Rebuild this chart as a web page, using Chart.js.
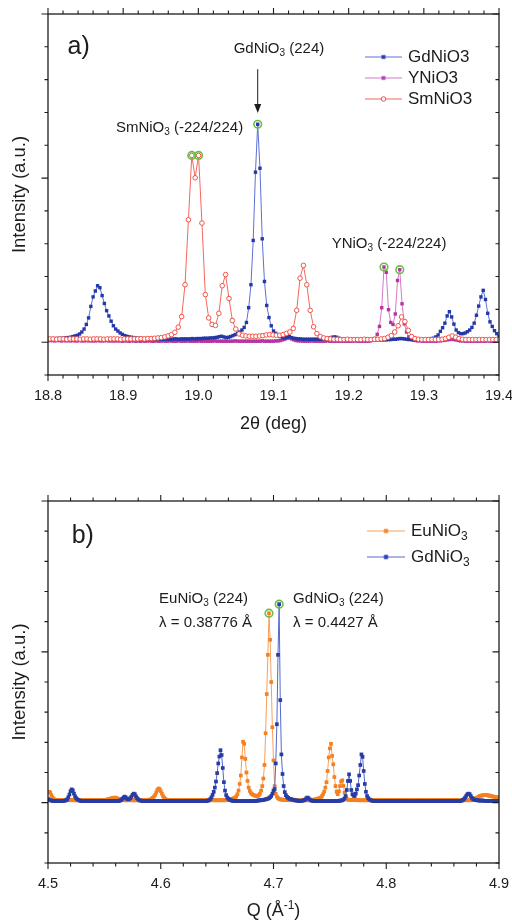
<!DOCTYPE html>
<html>
<head>
<meta charset="utf-8">
<title>Nickelate diffraction peaks</title>
<script src="https://cdn.jsdelivr.net/npm/chart.js@4.4.1/dist/chart.umd.min.js"></script>
<style>
  html, body { margin: 0; padding: 0; background: #fff; }
  #panelA { position: absolute; left: 0; top: 0; }
  #panelB { position: absolute; left: 0; top: 460px; }
</style>
</head>
<body>
<canvas id="panelA" width="512" height="460"></canvas>
<canvas id="panelB" width="512" height="462"></canvas>
<script>
// ---- panel a: intensity vs 2theta (deg), one row = 10 steps ----
const gdStartA = 18.8, gdStepA = 0.003;
const gdNiO3A = [
  0.10,0.10,0.11,0.11,0.11,0.12,0.12,0.13,0.13,0.14, // 18.800
  0.15,0.17,0.19,0.21,0.25,0.31,0.40,0.54,0.74,1.09, // 18.830
  1.38,1.56,1.72,1.66,1.42,1.18,0.96,0.80,0.64,0.50, // 18.860
  0.40,0.34,0.28,0.24,0.20,0.18,0.16,0.15,0.14,0.13, // 18.890
  0.12,0.12,0.11,0.11,0.10,0.10,0.10,0.09,0.09,0.09, // 18.920
  0.09,0.09,0.09,0.10,0.09,0.09,0.10,0.10,0.09,0.10, // 18.950
  0.10,0.10,0.10,0.10,0.11,0.10,0.11,0.11,0.11,0.12, // 18.980
  0.12,0.12,0.13,0.13,0.14,0.15,0.17,0.18,0.16,0.14, // 19.010
  0.15,0.17,0.20,0.23,0.27,0.31,0.37,0.45,0.60,1.05, // 19.040
  1.75,3.10,5.18,6.64,5.30,3.15,1.85,1.12,0.75,0.50, // 19.070
  0.34,0.27,0.21,0.17,0.14,0.13,0.15,0.17,0.14,0.12, // 19.100
  0.11,0.10,0.10,0.09,0.09,0.09,0.09,0.09,0.09,0.09, // 19.130
  0.09,0.09,0.09,0.10,0.11,0.13,0.15,0.16,0.15,0.12, // 19.160
  0.10,0.09,0.08,0.08,0.08,0.08,0.08,0.08,0.08,0.08, // 19.190
  0.08,0.08,0.08,0.07,0.07,0.07,0.07,0.07,0.07,0.07, // 19.220
  0.07,0.08,0.08,0.09,0.09,0.10,0.11,0.11,0.10,0.09, // 19.250
  0.08,0.08,0.08,0.08,0.08,0.08,0.08,0.08,0.09,0.10, // 19.280
  0.11,0.12,0.16,0.22,0.33,0.44,0.58,0.80,0.93,0.77, // 19.310
  0.55,0.37,0.29,0.26,0.26,0.28,0.32,0.37,0.45,0.58, // 19.340
  0.82,1.10,1.38,1.58,1.30,0.88,0.62,0.48,0.35,0.26, // 19.370
  0.17
];

const yStartA = 18.8, yStepA = 0.003;
const yNiO3A = [
  0.05,0.05,0.05,0.04,0.05,0.05,0.04,0.05,0.04,0.05,
  0.04,0.05,0.04,0.04,0.05,0.04,0.04,0.05,0.04,0.04,
  0.04,0.04,0.05,0.04,0.04,0.04,0.05,0.04,0.04,0.04,
  0.04,0.04,0.04,0.03,0.04,0.04,0.03,0.04,0.04,0.03,
  0.04,0.03,0.04,0.03,0.04,0.04,0.03,0.03,0.04,0.03,
  0.03,0.04,0.03,0.03,0.04,0.03,0.03,0.03,0.04,0.03,
  0.03,0.03,0.04,0.03,0.03,0.03,0.03,0.04,0.03,0.03,
  0.03,0.03,0.03,0.03,0.04,0.03,0.03,0.03,0.03,0.03,
  0.03,0.03,0.03,0.04,0.03,0.03,0.03,0.03,0.03,0.03,
  0.03,0.03,0.03,0.03,0.03,0.04,0.03,0.03,0.03,0.03,
  0.03,0.04,0.04,0.05,0.07,0.09,0.12,0.13,0.10,0.07, // 19.100
  0.05,0.04,0.04,0.03,0.03,0.03,0.03,0.04,0.03,0.03,
  0.03,0.03,0.03,0.03,0.04,0.03,0.03,0.03,0.03,0.03,
  0.03,0.03,0.03,0.03,0.03,0.03,0.04,0.03,0.03,0.03,
  0.03,0.03,0.03,0.04,0.06,0.11,0.24,0.48,1.05,2.29, // 19.220
  2.13,0.99,0.60,0.54,0.86,1.88,2.21,1.17,0.56,0.31, // 19.250
  0.16,0.09,0.06,0.05,0.04,0.04,0.03,0.03,0.03,0.03,
  0.03,0.03,0.03,0.04,0.04,0.05,0.06,0.07,0.08,0.09,
  0.08,0.07,0.05,0.04,0.04,0.03,0.03,0.03,0.03,0.03,
  0.03,0.03,0.03,0.03,0.03,0.04,0.03,0.03,0.03,0.03,
  0.03
];

const smStartA = 18.8023, smStepA = 0.0045;
const smNiO3A = [
  0.10,0.10,0.09,0.10,0.10,0.09,0.10,0.10,0.10,0.09,
  0.10,0.10,0.09,0.10,0.10,0.10,0.09,0.10,0.10,0.10,
  0.10,0.09,0.10,0.10,0.10,0.10,0.10,0.11,0.10,0.11,
  0.11,0.12,0.13,0.14,0.16,0.19,0.23,0.30,0.46,0.78, // 18.937
  1.75,3.73,5.69,5.01,5.69,3.63,1.45,0.74,0.54,0.51, // 18.982
  0.88,1.72,2.06,1.33,0.66,0.40,0.25,0.21,0.19,0.18, // 19.027
  0.18,0.18,0.19,0.20,0.22,0.23,0.22,0.21,0.21,0.23, // 19.072
  0.27,0.31,0.42,0.97,1.95,2.34,1.75,0.97,0.47,0.26, // 19.117
  0.17,0.13,0.11,0.10,0.09,0.09,0.08,0.08,0.09,0.08,
  0.08,0.08,0.08,0.09,0.08,0.08,0.09,0.09,0.10,0.11,
  0.15,0.20,0.31,0.50,0.77,0.63,0.36,0.17,0.11,0.09, // 19.252
  0.08,0.08,0.08,0.08,0.08,0.08,0.09,0.11,0.15,0.19,
  0.15,0.11,0.09,0.08,0.08,0.08,0.08,0.08,0.08,0.08,
  0.08,0.08,0.08,0.08
];

// ---- panel b: intensity vs Q (1/Angstrom), one row = 20 steps ----
const qStartB = 4.5, qStepB = 0.001;
const euNiO3B = [
  0.35,0.36,0.33,0.25,0.18,0.13,0.10,0.09,0.09,0.08, 0.08,0.09,0.08,0.08,0.08,0.09,0.08,0.08,0.08,0.08, // 4.50
  0.08,0.08,0.09,0.08,0.08,0.08,0.08,0.08,0.09,0.08, 0.08,0.08,0.08,0.08,0.09,0.08,0.08,0.08,0.08,0.09, // 4.52
  0.08,0.08,0.08,0.08,0.08,0.08,0.08,0.08,0.09,0.08, 0.09,0.09,0.10,0.11,0.12,0.13,0.14,0.15,0.16,0.17, // 4.54
  0.16,0.15,0.13,0.12,0.10,0.09,0.09,0.08,0.08,0.08, 0.08,0.08,0.08,0.08,0.08,0.08,0.08,0.08,0.08,0.08, // 4.56
  0.08,0.08,0.08,0.08,0.08,0.08,0.08,0.08,0.09,0.09, 0.10,0.11,0.13,0.16,0.20,0.26,0.34,0.42,0.47,0.45, // 4.58
  0.38,0.30,0.22,0.16,0.12,0.10,0.09,0.09,0.08,0.08, 0.08,0.08,0.08,0.08,0.08,0.08,0.08,0.08,0.08,0.08, // 4.60
  0.08,0.08,0.08,0.09,0.08,0.08,0.08,0.08,0.08,0.08, 0.09,0.08,0.08,0.08,0.08,0.08,0.08,0.09,0.08,0.08, // 4.62
  0.08,0.08,0.08,0.08,0.08,0.08,0.08,0.08,0.08,0.08, 0.08,0.08,0.08,0.08,0.08,0.08,0.08,0.08,0.09,0.09, // 4.64
  0.09,0.09,0.10,0.12,0.13,0.15,0.17,0.21,0.28,0.40, 0.62,0.90,1.50,2.02,1.95,1.45,1.00,0.72,0.50,0.39, // 4.66
  0.32,0.28,0.26,0.24,0.23,0.22,0.22,0.25,0.30,0.40, 0.55,0.80,1.25,2.30,3.60,4.90,6.28,5.40,4.00,2.50, // 4.68
  1.40,0.55,0.30,0.20,0.15,0.12,0.11,0.10,0.10,0.09, 0.09,0.09,0.09,0.09,0.08,0.08,0.08,0.08,0.08,0.08, // 4.70
  0.08,0.08,0.08,0.08,0.08,0.08,0.08,0.08,0.08,0.08, 0.08,0.08,0.08,0.08,0.08,0.09,0.10,0.11,0.12,0.13, // 4.72
  0.14,0.15,0.17,0.22,0.28,0.37,0.50,0.68,1.05,1.50, 1.80,1.95,1.55,1.27,0.85,0.55,0.36,0.28,0.38,0.55, // 4.74
  0.70,0.74,0.56,0.33,0.18,0.12,0.10,0.09,0.09,0.09, 0.09,0.09,0.09,0.09,0.09,0.08,0.08,0.08,0.08,0.08, // 4.76
  0.08,0.08,0.08,0.08,0.08,0.08,0.08,0.08,0.08,0.08, 0.08,0.08,0.08,0.08,0.08,0.08,0.08,0.08,0.08,0.08, // 4.78
  0.08,0.08,0.08,0.08,0.09,0.08,0.08,0.08,0.08,0.08, 0.08,0.08,0.08,0.08,0.08,0.08,0.09,0.08,0.08,0.08, // 4.80
  0.08,0.08,0.08,0.08,0.08,0.08,0.08,0.08,0.08,0.08, 0.09,0.08,0.08,0.08,0.08,0.08,0.08,0.08,0.08,0.08, // 4.82
  0.08,0.08,0.08,0.08,0.08,0.08,0.08,0.09,0.08,0.08, 0.08,0.08,0.08,0.08,0.08,0.08,0.08,0.08,0.08,0.08, // 4.84
  0.08,0.08,0.08,0.08,0.08,0.08,0.08,0.08,0.08,0.08, 0.08,0.08,0.08,0.08,0.08,0.08,0.09,0.10,0.12,0.14, // 4.86
  0.16,0.18,0.20,0.22,0.23,0.24,0.25,0.25,0.25,0.25, 0.24,0.24,0.23,0.22,0.21,0.20,0.19,0.18,0.18,0.17, // 4.88
  0.17
];

const gdNiO3B = [
  0.12,0.10,0.08,0.07,0.06,0.06,0.05,0.05,0.05,0.05, 0.05,0.05,0.05,0.06,0.06,0.07,0.08,0.11,0.18,0.27, // 4.50
  0.38,0.44,0.41,0.30,0.21,0.15,0.11,0.09,0.07,0.06, 0.06,0.05,0.05,0.05,0.05,0.05,0.05,0.05,0.05,0.05, // 4.52
  0.05,0.05,0.05,0.05,0.05,0.05,0.05,0.05,0.05,0.05, 0.05,0.05,0.05,0.05,0.05,0.05,0.05,0.05,0.05,0.05, // 4.54
  0.05,0.05,0.05,0.06,0.07,0.09,0.13,0.17,0.20,0.17, 0.13,0.11,0.12,0.15,0.20,0.26,0.30,0.28,0.21,0.15, // 4.56
  0.11,0.08,0.07,0.06,0.05,0.05,0.05,0.05,0.05,0.05, 0.05,0.05,0.05,0.05,0.05,0.05,0.05,0.05,0.05,0.05, // 4.58
  0.05,0.05,0.05,0.05,0.05,0.05,0.05,0.05,0.05,0.05, 0.05,0.05,0.05,0.05,0.05,0.05,0.05,0.05,0.05,0.05, // 4.60
  0.05,0.05,0.05,0.05,0.05,0.05,0.05,0.05,0.05,0.05, 0.05,0.05,0.05,0.05,0.05,0.05,0.05,0.05,0.05,0.05, // 4.62
  0.05,0.06,0.07,0.09,0.12,0.18,0.26,0.36,0.50,0.70, 0.98,1.30,1.53,1.74,1.58,1.15,0.68,0.40,0.25,0.17, // 4.64
  0.13,0.10,0.08,0.07,0.06,0.06,0.05,0.05,0.05,0.05, 0.05,0.05,0.05,0.05,0.05,0.05,0.05,0.05,0.05,0.05, // 4.66
  0.05,0.05,0.05,0.06,0.06,0.06,0.07,0.07,0.08,0.08, 0.09,0.09,0.10,0.11,0.12,0.13,0.15,0.18,0.22,0.30, // 4.68
  0.40,0.45,1.30,2.60,4.90,6.58,3.40,1.60,0.95,0.55, 0.35,0.25,0.19,0.16,0.13,0.12,0.11,0.10,0.09,0.08, // 4.70
  0.07,0.07,0.06,0.06,0.06,0.06,0.07,0.08,0.10,0.14, 0.17,0.15,0.11,0.08,0.07,0.06,0.06,0.05,0.05,0.05, // 4.72
  0.05,0.05,0.05,0.05,0.05,0.05,0.05,0.05,0.05,0.05, 0.05,0.05,0.05,0.05,0.05,0.05,0.05,0.06,0.06,0.07, // 4.74
  0.07,0.08,0.10,0.14,0.22,0.42,0.72,0.94,0.72,0.42, 0.28,0.23,0.22,0.30,0.44,0.58,0.90,1.25,1.60,1.52, // 4.76
  1.05,0.62,0.36,0.22,0.15,0.11,0.09,0.07,0.06,0.06, 0.05,0.05,0.05,0.05,0.05,0.05,0.05,0.05,0.05,0.05, // 4.78
  0.05,0.05,0.05,0.05,0.05,0.05,0.05,0.05,0.05,0.05, 0.05,0.05,0.05,0.05,0.05,0.05,0.05,0.05,0.05,0.05, // 4.80
  0.05,0.05,0.05,0.05,0.05,0.05,0.05,0.05,0.05,0.05, 0.05,0.05,0.05,0.05,0.05,0.05,0.05,0.05,0.05,0.05, // 4.82
  0.05,0.05,0.05,0.05,0.05,0.05,0.05,0.05,0.05,0.05, 0.05,0.05,0.05,0.05,0.05,0.05,0.05,0.05,0.05,0.05, // 4.84
  0.05,0.05,0.05,0.05,0.05,0.05,0.06,0.07,0.09,0.12, 0.17,0.23,0.28,0.30,0.28,0.22,0.16,0.12,0.10,0.09, // 4.86
  0.08,0.08,0.07,0.07,0.07,0.07,0.07,0.06,0.06,0.06, 0.06,0.06,0.06,0.06,0.06,0.06,0.06,0.06,0.06,0.06, // 4.88
  0.06
];

const FONT = '"Liberation Sans", Arial, Helvetica, sans-serif';
const INK = '#1c1c1c';
const RING = 'rgb(104,190,70)';

function scan(start, step, values) {
  return values.map((v, i) => ({ x: +(start + i * step).toFixed(4), y: v }));
}

// "_{..}" is a subscript, "^{..}" a superscript
function richParts(str) {
  const out = [];
  const re = /([_^])\{([^}]*)\}/g;
  let last = 0, m;
  while ((m = re.exec(str))) {
    if (m.index > last) out.push({ t: str.slice(last, m.index), k: 0 });
    out.push({ t: m[2], k: m[1] === '_' ? 1 : -1 });
    last = re.lastIndex;
  }
  if (last < str.length) out.push({ t: str.slice(last), k: 0 });
  return out;
}

function drawRich(ctx, str, x, y, size, align) {
  const parts = richParts(str);
  const small = Math.round(size * 0.68);
  let w = 0;
  parts.forEach(p => {
    ctx.font = (p.k ? small : size) + 'px ' + FONT;
    p.w = ctx.measureText(p.t).width;
    w += p.w;
  });
  let cx = align === 'center' ? x - w / 2 : x;
  ctx.textAlign = 'left';
  ctx.textBaseline = 'middle';
  parts.forEach(p => {
    ctx.font = (p.k ? small : size) + 'px ' + FONT;
    ctx.fillText(p.t, cx, y + p.k * size * 0.32);
    cx += p.w;
  });
}

function drawMarker(ctx, ds, x, y) {
  const r = ds.pointRadius;
  ctx.fillStyle = ds.pointBackgroundColor;
  ctx.strokeStyle = ds.pointBorderColor || ds.borderColor;
  ctx.lineWidth = ds.pointBorderWidth || 0;
  ctx.beginPath();
  if (ds.pointStyle === 'rect') {
    const s = r * Math.SQRT1_2;
    ctx.rect(x - s, y - s, 2 * s, 2 * s);
  } else {
    ctx.arc(x, y, r, 0, Math.PI * 2);
  }
  ctx.fill();
  if (ctx.lineWidth > 0) ctx.stroke();
}

// frame, ticks, axis titles, legend and notes
const decorations = {
  id: 'decorations',
  afterDraw(chart, args, o) {
    const { ctx, chartArea: a, scales: { x, y } } = chart;
    ctx.save();
    ctx.strokeStyle = INK;
    ctx.fillStyle = INK;

    ctx.lineWidth = 1.3;
    ctx.strokeRect(a.left, a.top, a.right - a.left, a.bottom - a.top);

    ctx.lineWidth = 1.1;
    ctx.beginPath();
    const nx = Math.round((o.xMax - o.xMin) / o.xMinor);
    for (let k = 0; k <= nx; k++) {
      const px = x.getPixelForValue(o.xMin + k * o.xMinor);
      const len = k % o.xPer === 0 ? 6 : 3.5;
      ctx.moveTo(px, a.bottom); ctx.lineTo(px, a.bottom + len);
      ctx.moveTo(px, a.top); ctx.lineTo(px, a.top - len);
    }
    for (let v = o.yMin; v <= o.yMax; v++) {
      const py = y.getPixelForValue(v);
      const len = v % 5 === 0 ? 6.5 : 3.5;
      ctx.moveTo(a.left, py); ctx.lineTo(a.left - len, py);
      ctx.moveTo(a.right, py); ctx.lineTo(a.right - len, py);
    }
    ctx.stroke();

    // axis titles
    drawRich(ctx, o.xTitle, (a.left + a.right) / 2, a.bottom + o.xTitleGap, 18, 'center');
    ctx.save();
    ctx.translate(20, (a.top + a.bottom) / 2);
    ctx.rotate(-Math.PI / 2);
    drawRich(ctx, 'Intensity (a.u.)', 0, 0, 18.5, 'center');
    ctx.restore();

    // panel letter
    drawRich(ctx, o.tag.text, x.getPixelForValue(o.tag.x), y.getPixelForValue(o.tag.y), 25, 'left');

    // peak notes
    o.notes.forEach(n => {
      drawRich(ctx, n.text, x.getPixelForValue(n.x), y.getPixelForValue(n.y), 15, 'left');
    });

    // arrows
    o.arrows.forEach(ar => {
      const px = x.getPixelForValue(ar.x);
      const y1 = y.getPixelForValue(ar.from), y2 = y.getPixelForValue(ar.to);
      ctx.lineWidth = 1;
      ctx.beginPath();
      ctx.moveTo(px, y1); ctx.lineTo(px, y2 - 6);
      ctx.stroke();
      ctx.beginPath();
      ctx.moveTo(px - 3.5, y2 - 9); ctx.lineTo(px + 3.5, y2 - 9); ctx.lineTo(px, y2);
      ctx.closePath();
      ctx.fill();
    });

    // legend
    const lg = o.legend;
    lg.items.forEach((it, i) => {
      const ds = chart.data.datasets[it.ds];
      const ry = a.top + lg.top + i * lg.gap;
      const x1 = a.right - lg.lineFrom, x2 = a.right - lg.lineTo;
      ctx.strokeStyle = ds.borderColor;
      ctx.lineWidth = 1;
      ctx.beginPath();
      ctx.moveTo(x1, ry); ctx.lineTo(x2, ry);
      ctx.stroke();
      drawMarker(ctx, ds, (x1 + x2) / 2, ry);
      ctx.fillStyle = INK;
      drawRich(ctx, it.text, a.right - lg.textAt, ry, 17, 'left');
    });
    ctx.restore();
  }
};

function makePanel(id, p) {
  return new Chart(document.getElementById(id), {
    type: 'scatter',
    data: { datasets: p.datasets },
    options: {
      responsive: false,
      animation: false,
      events: [],
      layout: { padding: { top: p.top, right: 13, left: 0, bottom: 0 } },
      scales: {
        x: {
          type: 'linear', min: p.xMin, max: p.xMax,
          afterFit: s => { s.height = p.xHeight; s.paddingLeft = 0; s.paddingRight = 0; },
          grid: { display: false, drawTicks: false },
          border: { display: false },
          ticks: {
            stepSize: p.xMajor, autoSkip: false, maxRotation: 0, padding: 12,
            color: INK, font: { family: FONT, size: 14.5 },
            callback: v => v.toFixed(1)
          }
        },
        y: {
          min: p.yMin, max: p.yMax,
          afterFit: s => { s.width = 48; },
          grid: { display: false, drawTicks: false },
          border: { display: false },
          ticks: { display: false }
        }
      },
      plugins: {
        legend: { display: false },
        tooltip: { enabled: false },
        decorations: {
          xMin: p.xMin, xMax: p.xMax, xMinor: p.xMajor / 5, xPer: 5,
          yMin: p.yMin, yMax: p.yMax,
          xTitle: p.xTitle, xTitleGap: p.xTitleGap,
          tag: p.tag, notes: p.notes, arrows: p.arrows, legend: p.legend
        }
      }
    },
    plugins: [decorations]
  });
}

function series(data, line, fill, style, extra) {
  return Object.assign({
    data, showLine: true, borderColor: line, borderWidth: 1,
    pointStyle: style, pointRadius: 2.4, pointBackgroundColor: fill, pointBorderWidth: 0
  }, extra || {});
}

function rings(points) {
  return {
    data: points, showLine: false, pointStyle: 'circle', pointRadius: 3.8,
    pointBorderWidth: 1.6, pointBorderColor: RING, borderColor: RING,
    pointBackgroundColor: 'rgba(0,0,0,0)', order: -1
  };
}

// panel a
const gdPtsA = scan(gdStartA, gdStepA, gdNiO3A);
const yPtsA = scan(yStartA, yStepA, yNiO3A);
const smPtsA = scan(smStartA, smStepA, smNiO3A);

makePanel('panelA', {
  top: 14, xHeight: 85, xMin: 18.8, xMax: 19.4, xMajor: 0.1, yMin: -1, yMax: 10,
  xTitle: '2θ (deg)', xTitleGap: 49,
  datasets: [
    series(gdPtsA, 'rgb(92,112,212)', 'rgb(36,56,168)', 'rect', { order: 1 }),
    series(yPtsA, 'rgb(212,120,200)', 'rgb(182,52,162)', 'rect', { order: 2 }),
    series(smPtsA, 'rgb(244,104,92)', '#ffffff', 'circle',
      { order: 0, pointBorderColor: 'rgb(240,84,72)', pointBorderWidth: 1, pointRadius: 2.3 }),
    rings([smPtsA[42], smPtsA[44], gdPtsA[93], yPtsA[149], yPtsA[156]])
  ],
  tag: { text: 'a)', x: 18.826, y: 8.98 },
  notes: [
    { text: 'GdNiO_{3} (224)', x: 19.047, y: 8.95 },
    { text: 'SmNiO_{3} (-224/224)', x: 18.8903, y: 6.54 },
    { text: 'YNiO_{3} (-224/224)', x: 19.1774, y: 3.0 }
  ],
  arrows: [{ x: 19.079, from: 8.32, to: 6.98 }],
  legend: {
    top: 43, gap: 21, lineFrom: 134, lineTo: 97, textAt: 91,
    items: [{ ds: 0, text: 'GdNiO3' }, { ds: 1, text: 'YNiO3' }, { ds: 2, text: 'SmNiO3' }]
  }
});

// panel b
const euPtsB = scan(qStartB, qStepB, euNiO3B);
const gdPtsB = scan(qStartB, qStepB, gdNiO3B);

makePanel('panelB', {
  top: 41, xHeight: 59, xMin: 4.5, xMax: 4.9, xMajor: 0.1, yMin: -2, yMax: 10,
  xTitle: 'Q (Å^{-1})', xTitleGap: 48,
  datasets: [
    series(euPtsB, 'rgb(248,160,90)', 'rgb(245,128,32)', 'rect', { order: 1, pointRadius: 2.6 }),
    series(gdPtsB, 'rgb(84,104,206)', 'rgb(40,60,165)', 'rect', { order: 0, pointRadius: 2.6 }),
    rings([euPtsB[196], gdPtsB[205]])
  ],
  tag: { text: 'b)', x: 4.521, y: 8.82 },
  notes: [
    { text: 'EuNiO_{3} (224)', x: 4.5985, y: 6.76 },
    { text: 'λ = 0.38776 Å', x: 4.5985, y: 5.95 },
    { text: 'GdNiO_{3} (224)', x: 4.7174, y: 6.76 },
    { text: 'λ = 0.4427 Å', x: 4.7174, y: 5.95 }
  ],
  arrows: [],
  legend: {
    top: 30, gap: 26, lineFrom: 132, lineTo: 94, textAt: 88,
    items: [{ ds: 0, text: 'EuNiO_{3}' }, { ds: 1, text: 'GdNiO_{3}' }]
  }
});
</script>
</body>
</html>
